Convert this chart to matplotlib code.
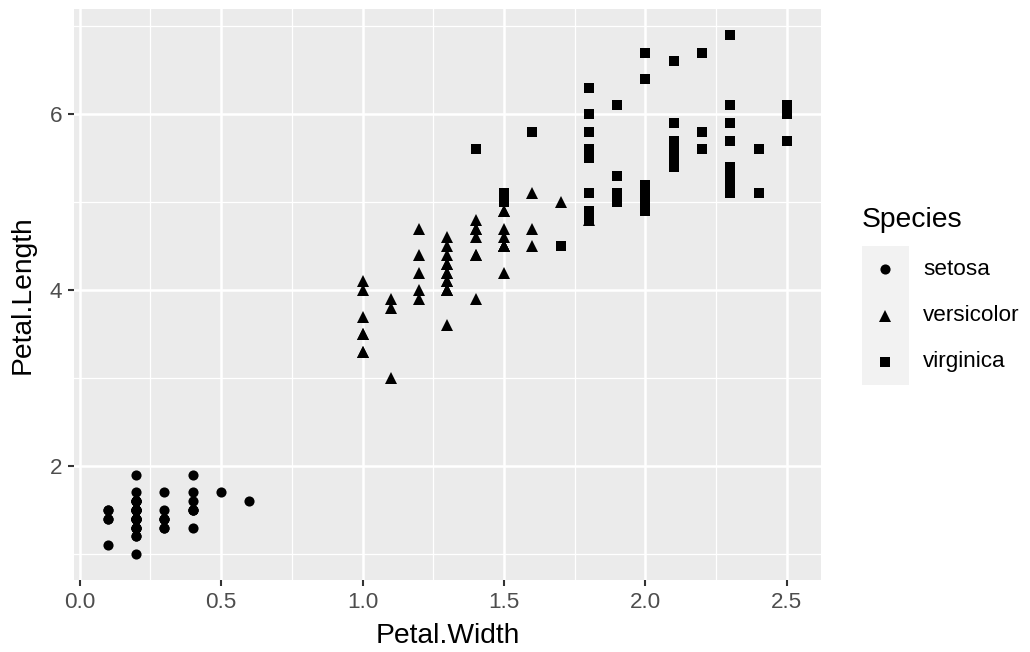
import numpy as np
import matplotlib.pyplot as plt
from matplotlib.ticker import MultipleLocator

# =====================
# 字体
# =====================
plt.rcParams['font.family'] = ['Liberation Sans', 'DejaVu Sans']

# =====================
# iris 数据
# =====================
species = ['setosa', 'versicolor', 'virginica']

setosa_width = [0.2, 0.2, 0.2, 0.2, 0.2, 0.4, 0.3, 0.2, 0.2, 0.1,
                0.2, 0.2, 0.1, 0.1, 0.2, 0.4, 0.4, 0.3, 0.3, 0.3,
                0.2, 0.4, 0.2, 0.5, 0.2, 0.2, 0.4, 0.2, 0.2, 0.2,
                0.2, 0.4, 0.1, 0.2, 0.2, 0.2, 0.2, 0.1, 0.2, 0.2,
                0.3, 0.3, 0.2, 0.6, 0.4, 0.3, 0.2, 0.2, 0.2, 0.2]
setosa_length = [1.4, 1.4, 1.3, 1.5, 1.4, 1.7, 1.4, 1.5, 1.4, 1.5,
                 1.5, 1.6, 1.4, 1.1, 1.2, 1.5, 1.3, 1.4, 1.7, 1.5,
                 1.7, 1.5, 1.0, 1.7, 1.9, 1.6, 1.6, 1.5, 1.4, 1.6,
                 1.6, 1.5, 1.5, 1.4, 1.5, 1.2, 1.3, 1.4, 1.3, 1.5,
                 1.3, 1.3, 1.3, 1.6, 1.9, 1.4, 1.6, 1.4, 1.5, 1.4]

versicolor_width = [1.4, 1.5, 1.5, 1.3, 1.5, 1.3, 1.6, 1.0, 1.3, 1.4,
                    1.0, 1.5, 1.0, 1.4, 1.3, 1.4, 1.5, 1.0, 1.5, 1.1,
                    1.8, 1.3, 1.5, 1.2, 1.3, 1.4, 1.4, 1.7, 1.5, 1.0,
                    1.1, 1.0, 1.2, 1.6, 1.5, 1.6, 1.5, 1.3, 1.3, 1.3,
                    1.2, 1.4, 1.2, 1.0, 1.3, 1.2, 1.3, 1.3, 1.1, 1.3]
versicolor_length = [4.7, 4.5, 4.9, 4.0, 4.6, 4.5, 4.7, 3.3, 4.6, 3.9,
                     3.5, 4.2, 4.0, 4.7, 3.6, 4.4, 4.5, 4.1, 4.5, 3.9,
                     4.8, 4.0, 4.9, 4.7, 4.3, 4.4, 4.8, 5.0, 4.5, 3.5,
                     3.8, 3.7, 3.9, 5.1, 4.5, 4.5, 4.7, 4.4, 4.1, 4.0,
                     4.4, 4.6, 4.0, 3.3, 4.2, 4.2, 4.2, 4.3, 3.0, 4.1]

virginica_width = [2.5, 1.9, 2.1, 1.8, 2.2, 2.1, 1.7, 1.8, 1.8, 2.5,
                   2.0, 1.9, 2.1, 2.0, 2.4, 2.3, 1.8, 2.2, 2.3, 1.5,
                   2.3, 2.0, 2.0, 1.8, 2.1, 1.8, 1.8, 1.8, 2.1, 1.6,
                   1.9, 2.0, 2.2, 1.5, 1.4, 2.3, 2.4, 1.8, 1.8, 2.1,
                   2.4, 2.3, 1.9, 2.3, 2.5, 2.3, 1.9, 2.0, 2.3, 1.8]
virginica_length = [6.0, 5.1, 5.9, 5.6, 5.8, 6.6, 4.5, 6.3, 5.8, 6.1,
                    5.1, 5.3, 5.5, 5.0, 5.1, 5.3, 5.5, 6.7, 6.9, 5.0,
                    5.7, 4.9, 6.7, 4.9, 5.7, 6.0, 4.8, 4.9, 5.6, 5.8,
                    6.1, 6.4, 5.6, 5.1, 5.6, 6.1, 5.6, 5.5, 4.8, 5.4,
                    5.6, 5.1, 5.1, 5.9, 5.7, 5.2, 5.0, 5.2, 5.4, 5.1]

widths = [setosa_width, versicolor_width, virginica_width]
lengths = [setosa_length, versicolor_length, virginica_length]
markers = ['o', '^', 's']
msizes = [7.3, 8.6, 6.8]

# =====================
# 画布
# =====================
fig = plt.figure(figsize=(10.3, 6.52), dpi=100)
ax = fig.add_axes([0.0718, 0.1104, 0.7252, 0.8756])
ax.set_facecolor('#EBEBEB')
for s in ax.spines.values():
    s.set_visible(False)

for w, l, m, ms in zip(widths, lengths, markers, msizes):
    ax.plot(w, l, linestyle='none', marker=m, markersize=ms,
            color='black', markeredgewidth=0, zorder=3)

# ggplot 风格坐标范围 (5% 扩展)
allw = np.concatenate(widths)
alll = np.concatenate(lengths)
dx = (allw.max() - allw.min()) * 0.05
dy = (alll.max() - alll.min()) * 0.05
ax.set_xlim(allw.min() - dx, allw.max() + dx)
ax.set_ylim(alll.min() - dy, alll.max() + dy)

ax.xaxis.set_major_locator(MultipleLocator(0.5))
ax.xaxis.set_minor_locator(MultipleLocator(0.25))
ax.yaxis.set_major_locator(MultipleLocator(2))
ax.yaxis.set_minor_locator(MultipleLocator(1))
ax.xaxis.set_major_formatter(lambda v, p: f'{v:.1f}')
ax.yaxis.set_major_formatter(lambda v, p: f'{v:.0f}')

ax.grid(which='major', color='white', linewidth=1.8)
ax.grid(which='minor', color='white', linewidth=0.9)
ax.set_axisbelow(True)

ax.tick_params(which='major', length=4.5, width=1.5, color='#333333',
               labelsize=16.2, labelcolor='#4D4D4D', pad=4)
ax.tick_params(which='minor', length=0)

ax.set_xlabel('Petal.Width', fontsize=20.3, labelpad=7)
ax.set_ylabel('Petal.Length', fontsize=20.3, labelpad=10)

# =====================
# 图例
# =====================
lax = fig.add_axes([0.8369, 0.4095, 0.0456, 0.2132])
lax.set_facecolor('#F2F2F2')
for s in lax.spines.values():
    s.set_visible(False)
lax.set_xticks([])
lax.set_yticks([])
lax.set_xlim(0, 1)
lax.set_ylim(-0.5, 2.5)
for i, (name, m, ms) in enumerate(zip(species, markers, msizes)):
    yy = 2 - i
    lax.plot([0.5], [yy], linestyle='none', marker=m, markersize=ms,
             color='black', markeredgewidth=0)
    lax.text(1.3, yy, name, fontsize=16.2, va='center', ha='left',
             clip_on=False)
lax.text(0.0, 2.78, 'Species', fontsize=20.3, va='bottom', ha='left',
         clip_on=False)

fig.savefig('out.png', dpi=100)
